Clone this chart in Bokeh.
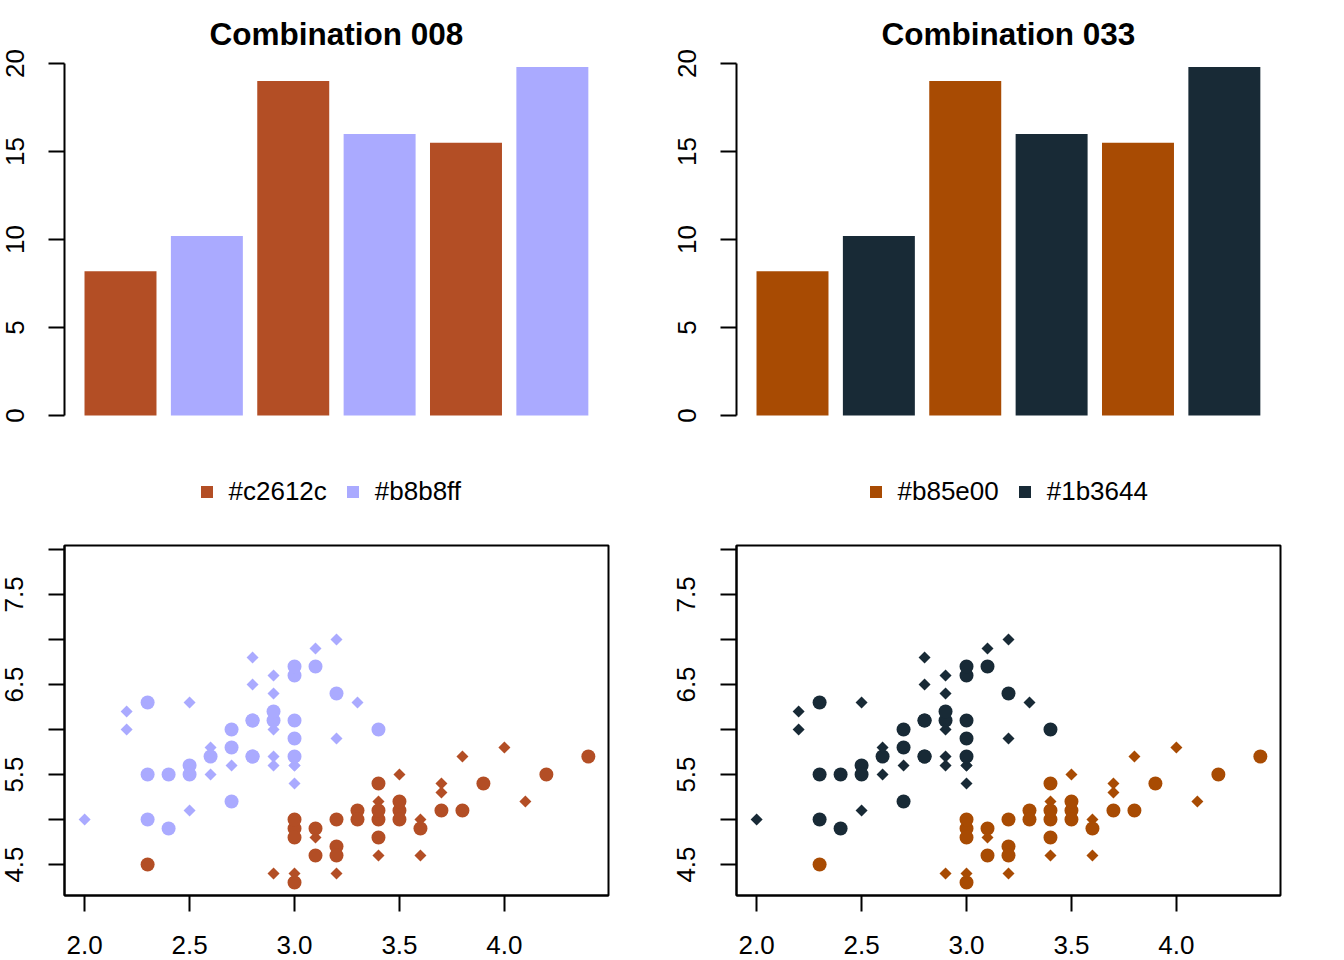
from bokeh.plotting import figure
from bokeh.layouts import column, row
from bokeh.models import ColumnDataSource, FixedTicker, Legend, LegendItem
from bokeh.embed import file_html
from bokeh.resources import INLINE
import math

# ---------------- data ----------------
bar_values = [8.2, 10.2, 19.0, 16.0, 15.5, 19.8]

titles = ["Combination 008", "Combination 033"]
palette_labels = [["#c2612c", "#b8b8ff"], ["#b85e00", "#1b3644"]]
palette_drawn = [["#b34e25", "#aaaaff"], ["#a84b03", "#182a36"]]

# iris rows 1-100: Sepal.Width (x) and Sepal.Length (y)
setosa_width = [3.5, 3.0, 3.2, 3.1, 3.6, 3.9, 3.4, 3.4, 2.9, 3.1,
                3.7, 3.4, 3.0, 3.0, 4.0, 4.4, 3.9, 3.5, 3.8, 3.8,
                3.4, 3.7, 3.6, 3.3, 3.4, 3.0, 3.4, 3.5, 3.4, 3.2,
                3.1, 3.4, 4.1, 4.2, 3.1, 3.2, 3.5, 3.6, 3.0, 3.4,
                3.5, 2.3, 3.2, 3.5, 3.8, 3.0, 3.8, 3.2, 3.7, 3.3]
setosa_length = [5.1, 4.9, 4.7, 4.6, 5.0, 5.4, 4.6, 5.0, 4.4, 4.9,
                 5.4, 4.8, 4.8, 4.3, 5.8, 5.7, 5.4, 5.1, 5.7, 5.1,
                 5.4, 5.1, 4.6, 5.1, 4.8, 5.0, 5.0, 5.2, 5.2, 4.7,
                 4.8, 5.4, 5.2, 5.5, 4.9, 5.0, 5.5, 4.9, 4.4, 5.1,
                 5.0, 4.5, 4.4, 5.0, 5.1, 4.8, 5.1, 4.6, 5.3, 5.0]
versicolor_width = [3.2, 3.2, 3.1, 2.3, 2.8, 2.8, 3.3, 2.4, 2.9, 2.7,
                    2.0, 3.0, 2.2, 2.9, 2.9, 3.1, 3.0, 2.7, 2.2, 2.5,
                    3.2, 2.8, 2.5, 2.8, 2.9, 3.0, 2.8, 3.0, 2.9, 2.6,
                    2.4, 2.4, 2.7, 2.7, 3.0, 3.4, 3.1, 2.3, 3.0, 2.5,
                    2.6, 3.0, 2.6, 2.3, 2.7, 3.0, 2.9, 2.9, 2.5, 2.8]
versicolor_length = [7.0, 6.4, 6.9, 5.5, 6.5, 5.7, 6.3, 4.9, 6.6, 5.2,
                     5.0, 5.9, 6.0, 6.1, 5.6, 6.7, 5.6, 5.8, 6.2, 5.6,
                     5.9, 6.1, 6.3, 6.1, 6.4, 6.6, 6.8, 6.7, 6.0, 5.7,
                     5.5, 5.5, 5.8, 6.0, 5.4, 6.0, 6.7, 6.3, 5.6, 5.5,
                     5.5, 6.1, 5.8, 5.0, 5.6, 5.7, 5.7, 6.2, 5.1, 5.7]

bar_y_ticks = [0, 5, 10, 15, 20]
sc_x_ticks = [2.0, 2.5, 3.0, 3.5, 4.0]
sc_y_ticks = [4.5, 5.5, 6.5, 7.5]
sc_y_minor = [5.0, 6.0, 7.0, 8.0]

FONT = "Liberation Sans"
TICK_FS = "26px"
LEGEND_X = [134.5, 131.5]   # legend left edge, px from frame left


def style_axis(ax, standoff):
    ax.axis_line_width = 2
    ax.axis_line_color = "black"
    ax.major_tick_line_width = 2
    ax.major_tick_out = 16
    ax.major_tick_in = 0
    ax.minor_tick_line_width = 2
    ax.minor_tick_out = 16
    ax.minor_tick_in = 0
    ax.major_label_text_font = FONT
    ax.major_label_text_font_size = TICK_FS
    ax.major_label_text_color = "black"
    ax.major_label_standoff = standoff


def bar_fig(col):
    n = len(bar_values)
    centers = [0.7 + 1.2 * i for i in range(n)]
    c = palette_drawn[col]
    colors = [c[i % 2] for i in range(n)]
    # frame extends below zero to host the legend; axis is bounded to 0..20
    p = figure(width=672, height=530, output_backend="svg", toolbar_location=None,
               x_range=(-0.078, 7.48), y_range=(-115 / 17.6, 20),
               min_border_left=64, min_border_right=64,
               min_border_top=63, min_border_bottom=0,
               x_axis_location=None, title=titles[col])
    p.outline_line_color = None
    p.grid.visible = False
    src = ColumnDataSource(dict(x=centers, top=bar_values, color=colors))
    bars = p.vbar(x="x", top="top", width=1.0, fill_color="color", line_color=None, source=src)
    ax = p.yaxis[0]
    ax.ticker = FixedTicker(ticks=bar_y_ticks)
    ax.bounds = (0, 20)
    ax.major_label_orientation = "vertical"
    style_axis(ax, 25)
    p.title.text_font = FONT
    p.title.text_font_size = "31.5px"
    p.title.text_font_style = "bold"
    p.title.text_color = "black"
    p.title.align = "center"
    p.title.standoff = 24

    items = [LegendItem(label=palette_labels[col][k], renderers=[bars], index=k)
             for k in range(2)]
    leg = Legend(items=items, orientation="horizontal",
                 location=(LEGEND_X[col], 23),
                 glyph_width=15, glyph_height=15, label_standoff=15, spacing=18,
                 padding=0, margin=0, border_line_color=None,
                 background_fill_alpha=0,
                 label_text_font=FONT, label_text_font_size=TICK_FS,
                 label_text_color="black")
    p.add_layout(leg, "center")
    return p


def scatter_fig(col):
    c = palette_drawn[col]
    xs = setosa_width + versicolor_width
    ys = setosa_length + versicolor_length
    groups = [0] * len(setosa_width) + [1] * len(versicolor_width)
    # R pch recycled c(18, 16): odd rows diamonds, even rows circles
    markers = ["square" if i % 2 == 0 else "circle" for i in range(len(xs))]
    sizes = [8.5 if m == "square" else 14 for m in markers]
    angles = [math.pi / 4 if m == "square" else 0 for m in markers]
    colors = [c[g] for g in groups]
    p = figure(width=672, height=430, output_backend="svg", toolbar_location=None,
               x_range=(1.904, 4.496), y_range=(4.156, 8.044),
               min_border_left=64, min_border_right=64,
               min_border_top=15, min_border_bottom=65)
    p.outline_line_color = "black"
    p.outline_line_width = 2
    p.grid.visible = False
    src = ColumnDataSource(dict(x=xs, y=ys, marker=markers, size=sizes,
                                angle=angles, color=colors))
    p.scatter(x="x", y="y", marker="marker", size="size", angle="angle",
              fill_color="color", line_color=None, source=src)
    ax = p.xaxis[0]
    ax.ticker = FixedTicker(ticks=sc_x_ticks)
    ax.major_label_overrides = {t: f"{t:.1f}" for t in sc_x_ticks}
    style_axis(ax, 24)
    ay = p.yaxis[0]
    ay.ticker = FixedTicker(ticks=sc_y_ticks, minor_ticks=sc_y_minor)
    ay.major_label_orientation = "vertical"
    ay.major_label_overrides = {t: f"{t:.1f}" for t in sc_y_ticks}
    style_axis(ay, 25)
    return p


layout = column(row(bar_fig(0), bar_fig(1)), row(scatter_fig(0), scatter_fig(1)))
open("out.html", "w").write(file_html(layout, INLINE, "Combinations"))
